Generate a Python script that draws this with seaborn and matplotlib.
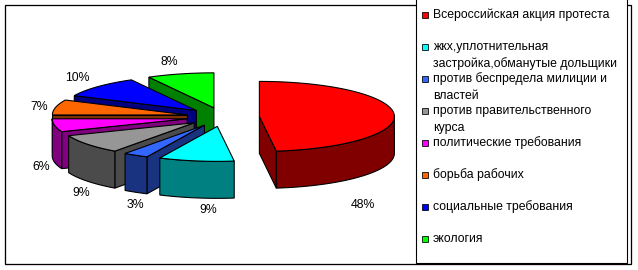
import numpy as np
import matplotlib
matplotlib.use("Agg")
import matplotlib.pyplot as plt
import seaborn as sns
from matplotlib.patches import Polygon, Rectangle

# ---------------- data ----------------
categories = [
    "Всероссийская акция протеста",
    "жкх,уплотнительная\nзастройка,обманутые дольщики",
    "против беспредела милиции и\nвластей",
    "против правительственного\nкурса",
    "политические требования",
    "борьба рабочих",
    "социальные требования",
    "экология",
]
values = [48, 9, 3, 9, 6, 7, 10, 8]
pct_labels = ["48%", "9%", "3%", "9%", "6%", "7%", "10%", "8%"]

top_colors = ["#FF0000", "#00FFFF", "#3366FF", "#969696",
              "#FF00FF", "#FF6600", "#0000FF", "#00FF00"]
side_colors = ["#800000", "#008080", "#1A3380", "#4B4B4B",
               "#800080", "#803300", "#000080", "#008000"]

# ---------------- style ----------------
sns.set_theme(style="white")
plt.rcParams['font.family'] = ['Liberation Sans', 'DejaVu Sans']

W, H = 638, 270
fig = plt.figure(figsize=(W / 100, H / 100), dpi=100)
ax = fig.add_axes([0, 0, 1, 1])
ax.set_xlim(0, W)
ax.set_ylim(H, 0)
ax.axis('off')

PX = 72 / 100.0  # points per pixel
FS = 8.8

# ---------------- frame ----------------
ax.add_patch(Rectangle((5, 5), 626, 259, facecolor='none', edgecolor='black',
                       linewidth=1.3 * PX, zorder=1))

# ---------------- 3D exploded pie ----------------
cx, cy = 223.0, 117.0
a, b = 135.0, 35.0
depth = 37.0
explode = 0.27

total = float(sum(values))
cum = np.concatenate([[0], np.cumsum(values)]) / total
slices = []
for i, v in enumerate(values):
    t1 = np.deg2rad(90 - 360 * cum[i])
    t2 = np.deg2rad(90 - 360 * cum[i + 1])
    mid = 0.5 * (t1 + t2)
    sx = cx + explode * a * np.cos(mid)
    sy = cy - explode * b * np.sin(mid)
    slices.append((i, t1, t2, mid, sx, sy))

order = sorted(slices, key=lambda s: -np.sin(s[3]))
z = 2
ekw = dict(edgecolor='black', linewidth=1.1 * PX, joinstyle='miter')
for (i, t1, t2, mid, sx, sy) in order:
    def rim(t, dz=0.0):
        return np.column_stack([sx + a * np.cos(t), sy - b * np.sin(t) + dz])
    # radial cut faces
    for t, vis in ((t1, np.cos(t1) < -1e-6), (t2, np.cos(t2) > 1e-6)):
        if vis:
            p = rim(np.array([t]))[0]
            poly = [[sx, sy], p, [p[0], p[1] + depth], [sx, sy + depth]]
            ax.add_patch(Polygon(poly, closed=True, facecolor=side_colors[i], zorder=z, **ekw))
            z += 1
    # outer rim side
    ts = np.linspace(t1, t2, 400)
    m = np.sin(ts) < 0
    if m.sum() > 1:
        tv = ts[m]
        poly = np.vstack([rim(tv), rim(tv[::-1], depth)])
        ax.add_patch(Polygon(poly, closed=True, facecolor=side_colors[i], zorder=z, **ekw))
        z += 1
    # top face
    poly = np.vstack([[sx, sy], rim(np.linspace(t1, t2, 200))])
    ax.add_patch(Polygon(poly, closed=True, facecolor=top_colors[i], zorder=z, **ekw))
    z += 1

# percentage labels (placement of annotation text)
label_xy = [(363, 205), (208, 210), (135, 205), (81, 193),
            (41, 167), (39, 107), (77, 78), (169, 62)]
for txt, (lx, ly) in zip(pct_labels, label_xy):
    ax.text(lx, ly, txt, ha='center', va='center', fontsize=FS, color='black', zorder=50)

# ---------------- legend ----------------
ax.add_patch(Rectangle((416, -5), 211, 268, facecolor='white', edgecolor='black',
                       linewidth=1.1 * PX, zorder=61))
for k, (name, col) in enumerate(zip(categories, top_colors)):
    y0 = 15 + 32.0 * k
    ax.add_patch(Rectangle((422, y0 - 3), 6, 6, facecolor=col, edgecolor='black',
                           linewidth=0.8 * PX, zorder=62))
    for j, line in enumerate(name.split("\n")):
        ax.text(433, y0 + 17 * j, line, ha='left', va='center', fontsize=FS,
                color='black', zorder=62)

fig.savefig("out.png", dpi=100)
